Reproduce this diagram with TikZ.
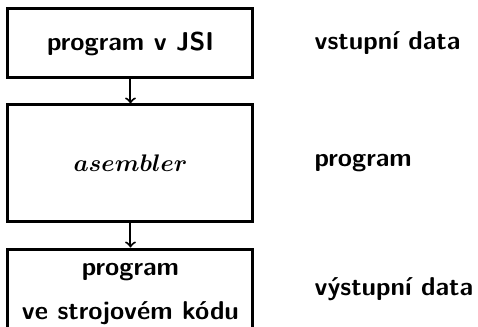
\documentclass[tikz,border=0pt]{standalone}
\usepackage{tikz}
\usetikzlibrary{arrows}
\usetikzlibrary{positioning}

\begin{document}
\begin{tikzpicture}[box/.style={draw, line width=1.5pt, minimum width=4.305cm, inner sep=0pt, align=center, font=\fontsize{12.9}{16}\selectfont\sffamily\bfseries},
  lbl/.style={font=\fontsize{12.9}{16}\selectfont\sffamily\bfseries, inner sep=0pt},
  line/.style={>=to, line width=1pt}]
\useasboundingbox (0,0) rectangle (8.4,-5.729);

\node[box, minimum height=1.213cm] (jsi) at (2.293,-.764) {program v JSI};
\node[box, minimum height=2.056cm, font=\fontsize{12.9}{16}\selectfont\mathversion{bold}] (asm) at (2.293,-2.873) {$asembler$};
\node[box, minimum height=1.5cm, text depth=0pt] (kod) at (2.293,-5.126) {program\\[6pt] ve strojovém kódu};

\draw[->, line] (jsi) -- (asm);
\draw[->, line] (asm) -- (kod);

\node[lbl, right=1.05cm of jsi.east, anchor=west] (vstup) {vstupní data};
\node[lbl, right=1.05cm of asm.east, anchor=west] (prog) {program};
\node[lbl, right=1.05cm of kod.east, anchor=west, yshift=1.5pt] (vystup) {výstupní data};

\end{tikzpicture}
\end{document}
